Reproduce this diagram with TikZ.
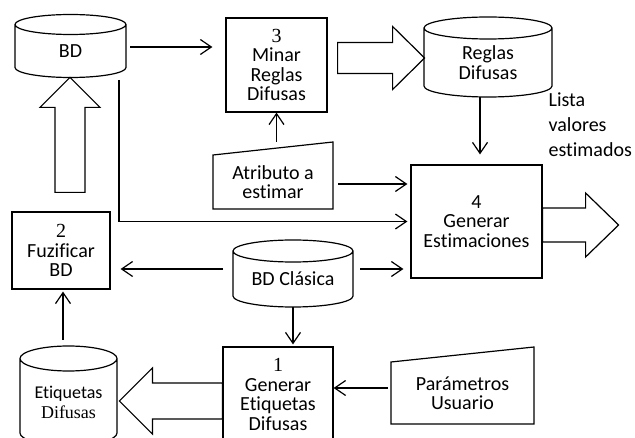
\documentclass[tikz,border=0pt]{standalone}
\usepackage{fontspec}
\setmainfont[Ligatures=NoCommon]{Carlito}
\newfontfamily\numfont{Liberation Serif}
\usetikzlibrary{arrows.meta}

% cylinder outline round a db node: node, x radius, y radius
\newcommand{\dbshape}[3]{%
  \draw ([yshift=#3]#1.north west)
      arc[start angle=180, end angle=360, x radius=#2, y radius=#3]
      arc[start angle=0, end angle=180, x radius=#2, y radius=#3]
      -- (#1.south west)
      arc[start angle=180, end angle=360, x radius=#2, y radius=#3]
      -- ([yshift=#3]#1.north east);}

\begin{document}
\begin{tikzpicture}[
    x=1pt, y=-1pt,
    font=\fontsize{20}{19.5}\selectfont,
    line width=1.2pt,
    proc/.style={draw, align=center, inner sep=2pt},
    db/.style={align=center, inner sep=1pt, outer sep=0pt},
    inp/.style={align=center, inner sep=2pt, outer sep=0pt},
    arr/.style={-{Straight Barb[length=11pt,width=15pt]}},
    hollow/.style={line join=miter}]

  \useasboundingbox (0,0) rectangle (635,438);

  % ---- upper row ---------------------------------------------------------
  \node[db, minimum width=111pt, minimum height=33pt]   (bd)     at (70.5,51)    {BD};
  \node[proc, minimum width=101pt, minimum height=94pt] (minar)  at (276.5,65)   {{\numfont 3}\\Minar\\Reglas\\Difusas};
  \node[db, minimum width=128pt, minimum height=47pt]   (reglas) at (488,62.5)   {Reglas\\Difusas};
  \node[align=left, anchor=west, inner sep=0pt,
        font=\fontsize{20}{25}\selectfont]              (lista)  at (548,125)    {Lista\\valores\\estimados};
  \dbshape{bd}{55.5pt}{10pt}
  \dbshape{reglas}{64pt}{11pt}

  % ---- middle row --------------------------------------------------------
  \node[inp, minimum width=120pt, minimum height=54pt]  (attr)   at (273,182)    {Atributo a\\estimar};
  \node[proc, minimum width=131pt, minimum height=113pt] (gen4)  at (476.5,221.5) {4\\Generar\\Estimaciones};
  \node[proc, minimum width=98pt, minimum height=77pt]  (fuz)    at (61,250.5)   {{\numfont 2}\\Fuzificar\\BD};
  \node[db, minimum width=120pt, minimum height=34pt]   (bdc)    at (293,279)    {BD Clásica};
  \dbshape{bdc}{60pt}{11pt}

  % ---- lower row ---------------------------------------------------------
  \node[proc, minimum width=110pt, minimum height=95pt] (gen1)   at (278,394.5)  {{\numfont 1}\\Generar\\Etiquetas\\Difusas};
  \node[inp, minimum width=143pt, minimum height=62pt]  (param)  at (462.5,393)  {Parámetros\\Usuario};
  \node[db, minimum width=97pt, minimum height=62pt,
        font=\fontsize{18}{20}\selectfont]              (etiq)   at (68.5,402)   {Etiquetas\\{\numfont Difusas}};
  \dbshape{etiq}{48.5pt}{12.5pt}

  % manual input outlines
  \draw (attr.south west) -- (attr.north west) -- ([yshift=13pt]attr.north east) -- (attr.south east) -- cycle;
  \draw (param.south west) -- (param.north west) -- ([yshift=15pt]param.north east) -- (param.south east) -- cycle;

  % ---- thin connectors ---------------------------------------------------
  \draw[arr, shorten <=4pt, shorten >=13pt] ([yshift=4pt]bd.east) -- ([yshift=4pt]bd.east -| minar.west);
  \draw[arr, shorten <=13pt] (minar.south |- attr.north) -- (minar.south);
  \draw[arr, shorten >=10pt] ([xshift=-8pt, yshift=-11pt]reglas.south) -- ([xshift=-8pt]reglas.south |- gen4.north);
  \draw[arr, shorten <=5pt, shorten >=3pt] ([yshift=-2pt]attr.east) -- ([yshift=-2pt]attr.east -| gen4.west);
  \draw[arr, shorten >=3pt] ([xshift=48.5pt, yshift=-12.5pt]bd.south) |- (gen4.west);
  \draw[arr, shorten <=10pt, shorten >=10pt] ([yshift=10pt]bdc.west) -- ([yshift=10pt]bdc.west -| fuz.east);
  \draw[arr, shorten <=7pt, shorten >=7pt] ([yshift=10pt]bdc.east) -- ([yshift=10pt]bdc.east -| gen4.west);
  \draw[arr, shorten >=2pt] ([yshift=-11pt]bdc.south) -- (bdc.south |- gen1.north);
  \draw[arr, shorten <=3pt] ([yshift=5pt]param.west) -- ([yshift=5pt]param.west -| gen1.east);
  \draw[arr, shorten <=31pt, shorten >=2pt] ([xshift=2pt]fuz.south |- etiq.north) -- ([xshift=2pt]fuz.south);

  % ---- block arrows ------------------------------------------------------
  \draw[hollow] (minar.east) ++(10,-22.5) -- ++(55,0) -- ++(0,-16) -- ++(32,31.5)
      -- ++(-32,31.5) -- ++(0,-16) -- ++(-55,0) -- cycle;
  \draw[hollow] (gen4.east) ++(0,-13.5) -- ++(43,0) -- ++(0,-15) -- ++(33,32)
      -- ++(-33,32) -- ++(0,-15) -- ++(-43,0) -- cycle;
  \draw[hollow] (fuz.north) ++(-6,-19) -- ++(0,-85) -- ++(-15,0) -- ++(30,-30)
      -- ++(30,30) -- ++(-15,0) -- ++(0,85) -- cycle;
  \draw[hollow] (gen1.west) ++(0,-11.5) -- ++(-70,0) -- ++(0,-15) -- ++(-33,33)
      -- ++(33,33) -- ++(0,-15) -- ++(70,0) -- cycle;
\end{tikzpicture}
\end{document}
